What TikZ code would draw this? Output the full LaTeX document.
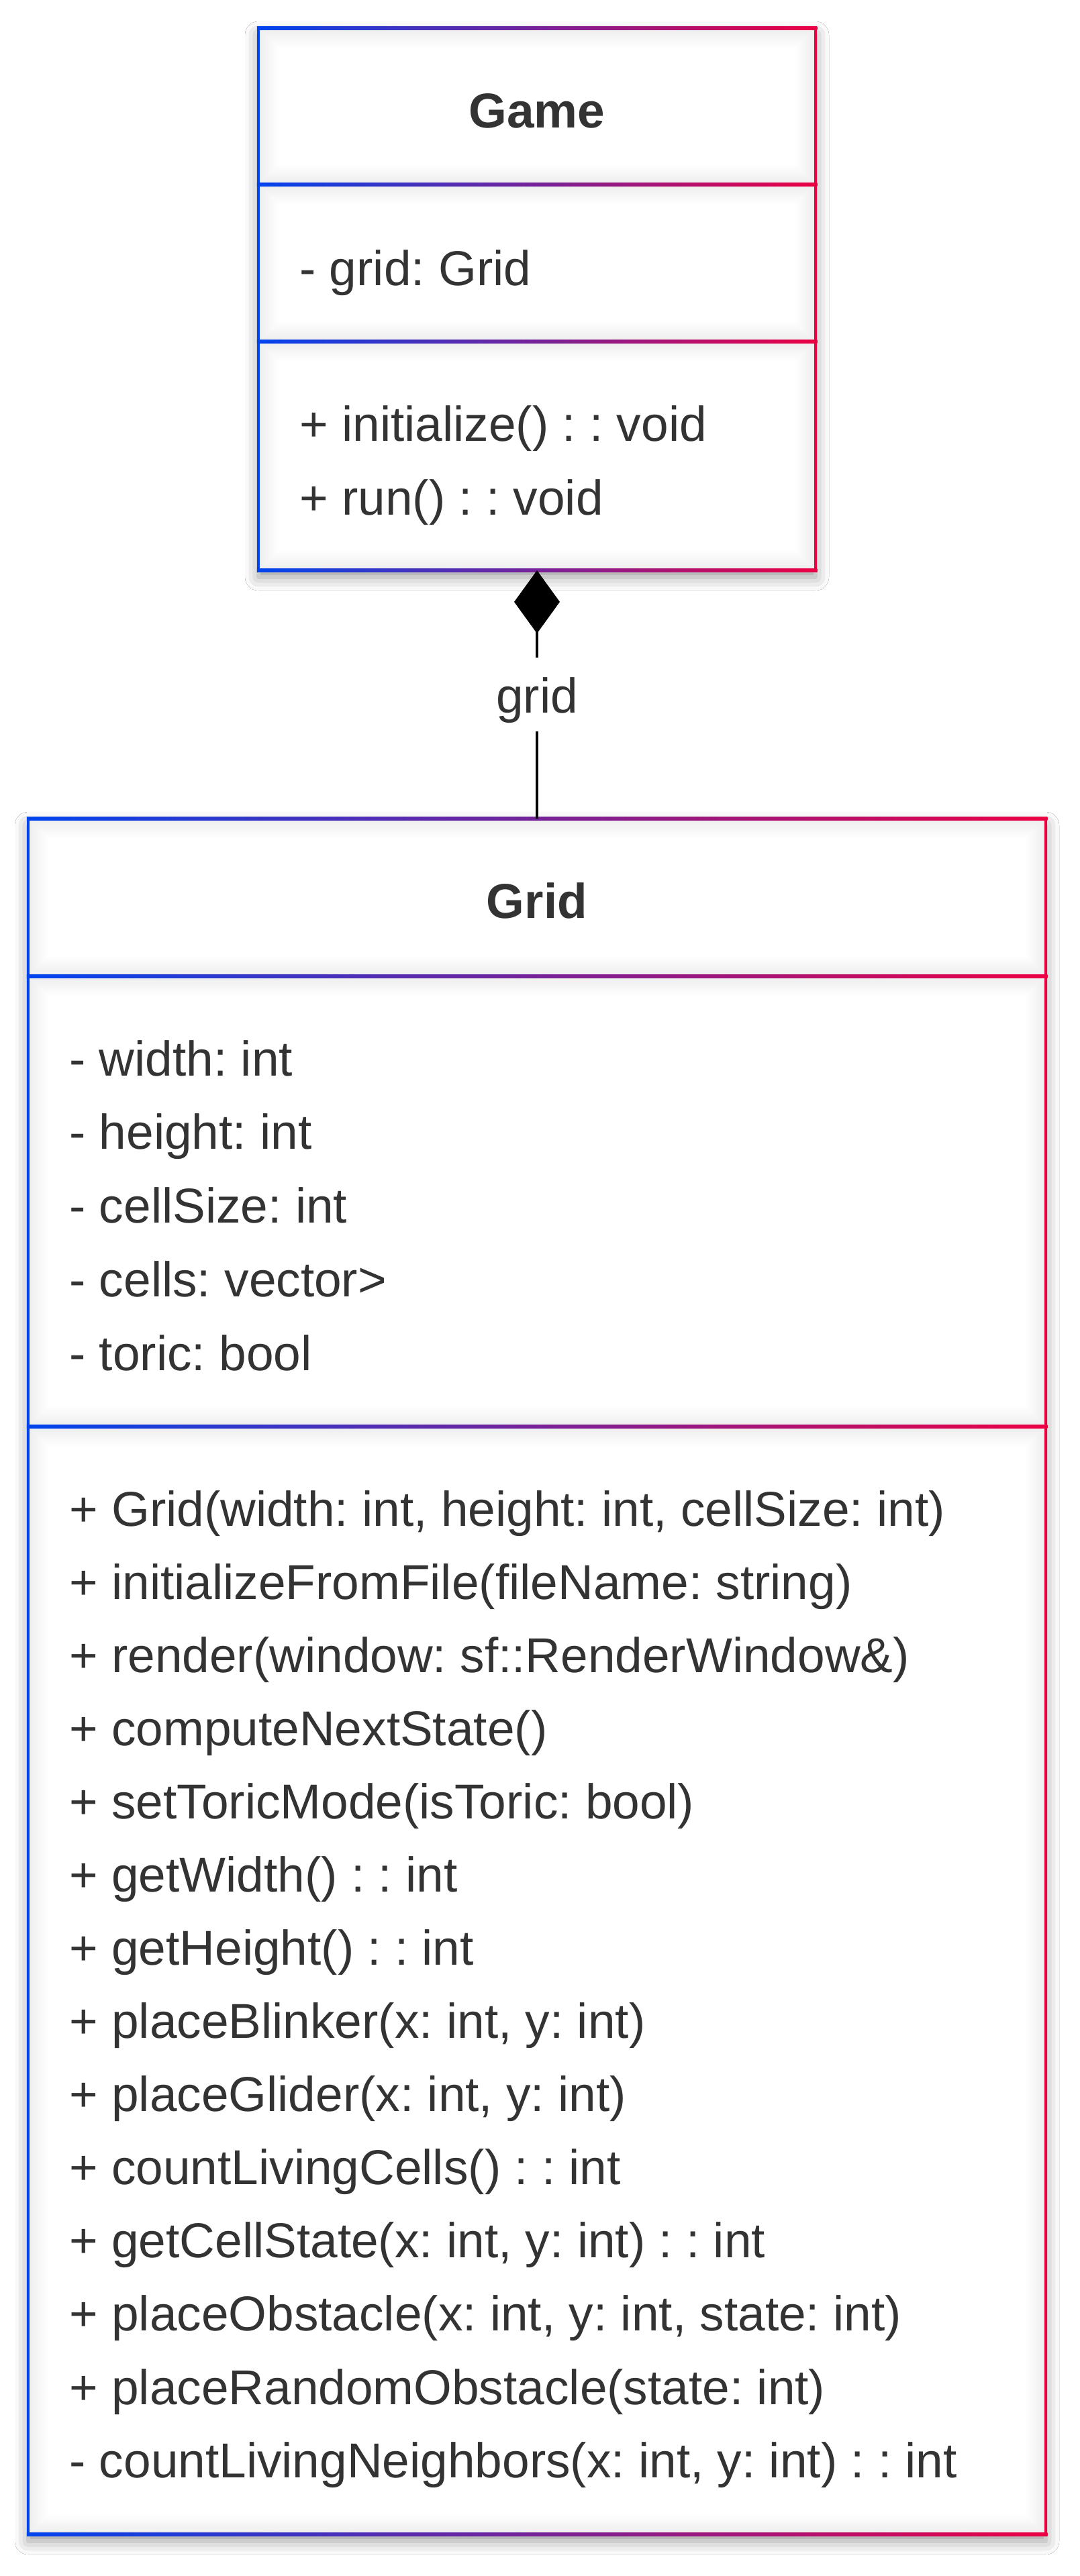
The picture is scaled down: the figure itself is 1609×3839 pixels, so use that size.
\documentclass[tikz,border=0pt]{standalone}
\usepackage{fontspec}
\setmainfont{Liberation Sans}
\frenchspacing
\usetikzlibrary{arrows.meta,shadows.blur}
\definecolor{ublue}{RGB}{0,68,238}
\definecolor{ured}{RGB}{236,0,68}
\definecolor{tcol}{RGB}{51,51,51}
\newcommand\gradh[3]{\shade[left color=ublue,right color=ured] ({#1-2.25},{#3-2.25}) rectangle ({#2+2.25},{#3+2.25});}
\newcommand\innerglow[4]{\foreach \k [evaluate=\k as \op using 0.007*(10-\k)] in {1,...,9}{\draw[black,draw opacity=\op,line width=1.5pt] ({#1+3*\k-1.5},{#2+3*\k-1.5}) rectangle ({#3-3*\k+1.5},{#4-3*\k+1.5});}}
\begin{document}
\begin{tikzpicture}[x=0.5pt,y=-0.5pt,
  boxnode/.style={fill=white,draw=none,inner sep=0,outer sep=0,
    blur shadow={shadow xshift=0pt,shadow yshift=-5pt,shadow blur radius=10pt,shadow opacity=40}},
  txt/.style={anchor=base west,inner sep=0,text=tcol,font=\fontsize{36.5}{44}\selectfont\frenchspacing},
  ttl/.style={anchor=base,inner sep=0,text=tcol,font=\fontsize{36.5}{44}\selectfont\bfseries},
  comp/.style={line width=2pt,draw=black,{Diamond[length=47pt,width=34pt]}-},
  lbl/.style={midway,fill=white,inner sep=0,outer sep=0,minimum height=55pt,text height=27pt,text depth=0pt,text=tcol,font=\fontsize{36.5}{44}\selectfont}]
\fill[white] (0,0) rectangle (1609,3839);
\useasboundingbox (0,0) rectangle (1609,3839);

% boxes
\node[boxnode,minimum width=415pt,minimum height=404pt] (game) at (800,446) {};
\node[boxnode,minimum width=758pt,minimum height=1278.5pt] (grid) at (800,2498.5) {};

% inner glows
\innerglow{387.25}{44.25}{1212.75}{272.75}
\innerglow{387.25}{277.25}{1212.75}{506.75}
\innerglow{387.25}{511.25}{1212.75}{847.75}
\innerglow{44.25}{1222.25}{1555.75}{1452.75}
\innerglow{44.25}{1457.25}{1555.75}{2123.75}
\innerglow{44.25}{2128.25}{1555.75}{3774.75}

% Game borders
\fill[ublue] (382.75,39.75) rectangle (387.25,852.25);
\fill[ured] (1212.75,39.75) rectangle (1217.25,852.25);
\gradh{385}{1215}{42}
\gradh{385}{1215}{275}
\gradh{385}{1215}{509}
\gradh{385}{1215}{850}

% Grid borders
\fill[ublue] (39.75,1217.75) rectangle (44.25,3779.25);
\fill[ured] (1555.75,1217.75) rectangle (1560.25,3779.25);
\gradh{42}{1558}{1220}
\gradh{42}{1558}{1455}
\gradh{42}{1558}{2126}
\gradh{42}{1558}{3777}

% connector
\draw[comp] (game.south) -- node[lbl] (lblgrid) {grid} (grid.north);

% Game text
\node[ttl] (gtitle) at (800,190) {Game};
\node[txt] (ga0) at (446,425) {- grid: Grid};
\node[txt] (gm0) at (446,657) {+ initialize() : : void};
\node[txt] (gm1) at (446,767) {+ run() : : void};

% Grid text
\node[ttl] (rtitle) at (800,1368) {Grid};
\node[txt] (ra0) at (103,1603) {- width: int};
\node[txt] (ra1) at (103,1712.75) {- height: int};
\node[txt] (ra2) at (103,1822.5) {- cellSize: int};
\node[txt] (ra3) at (103,1932.25) {- cells: vector>};
\node[txt] (ra4) at (103,2042) {- toric: bool};

\node[txt] (rm0) at (103,2274) {+ Grid(width: int, height: int, cellSize: int)};
\node[txt] (rm1) at (103,2383.08) {+ initializeFromFile(fileName: string)};
\node[txt] (rm2) at (103,2492.16) {+ render(window: sf::RenderWindow\&)};
\node[txt] (rm3) at (103,2601.24) {+ computeNextState()};
\node[txt] (rm4) at (103,2710.32) {+ setToricMode(isToric: bool)};
\node[txt] (rm5) at (103,2819.4) {+ getWidth() : : int};
\node[txt] (rm6) at (103,2928.48) {+ getHeight() : : int};
\node[txt] (rm7) at (103,3037.56) {+ placeBlinker(x: int, y: int)};
\node[txt] (rm8) at (103,3146.64) {+ placeGlider(x: int, y: int)};
\node[txt] (rm9) at (103,3255.72) {+ countLivingCells() : : int};
\node[txt] (rm10) at (103,3364.8) {+ getCellState(x: int, y: int) : : int};
\node[txt] (rm11) at (103,3473.88) {+ placeObstacle(x: int, y: int, state: int)};
\node[txt] (rm12) at (103,3582.96) {+ placeRandomObstacle(state: int)};
\node[txt] (rm13) at (103,3692) {- countLivingNeighbors(x: int, y: int) : : int};
\end{tikzpicture}
\end{document}
